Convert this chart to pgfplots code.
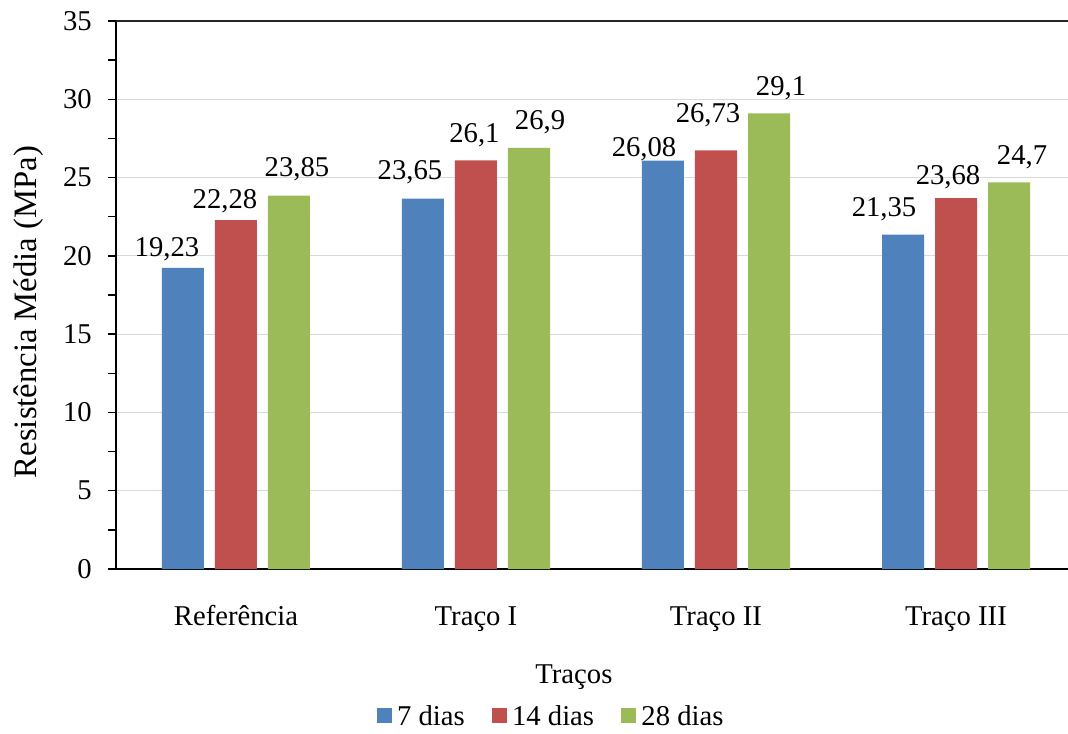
\documentclass[border=0pt]{standalone}
\usepackage{fontspec}
\setmainfont{Liberation Serif}
\usepackage{pgfplots}
\pgfplotsset{compat=1.18}
\usepackage{pgfplotstable}
\definecolor{c7}{HTML}{4F81BD}
\definecolor{c14}{HTML}{C0504D}
\definecolor{c28}{HTML}{9BBB59}
\definecolor{gridc}{HTML}{D9D9D9}
\newcommand\fs{\fontsize{21.5pt}{25pt}\selectfont}
\newcommand\fsl{\fontsize{24.5pt}{28pt}\selectfont}
% label string: dx(pt)/dy(pt)/text
\def\lblparse#1/#2/#3\relax{\raisebox{#2pt}{\makebox[0pt][c]{\hspace*{#1pt}\hspace*{#1pt}#3}}}

\pgfplotstableread{
x y lab
0 19.23 -12/8.25/19,23
1 23.65 -9.75/14.25/23,65
2 26.08 -14.25/3/26,08
3 21.35 -14.25/13.5/21,35
}\tA
\pgfplotstableread{
x y lab
0 22.28 -8.25/9/22,28
1 26.1 -1.125/13.5/26,1
2 26.73 -6/21/26,73
3 23.68 -6/10.5/23,68
}\tB
\pgfplotstableread{
x y lab
0 23.85 6/14.25/23,85
1 26.9 8.25/13.5/26,9
2 29.1 9/13.5/29,1
3 24.7 9.75/13.5/24,7
}\tC

\pgfplotsset{lbl/.style={
  nodes near coords={\expandafter\lblparse\pgfplotspointmeta\relax},
  point meta=explicit symbolic,
  every node near coord/.append style={anchor=base, inner sep=0pt, font=\fs}}}

\begin{document}
\fs
\begin{tikzpicture}[font=\fs]
\useasboundingbox (-87pt,-123pt) rectangle (714pt,426.75pt);
\begin{axis}[
  scale only axis, width=714pt, height=411pt,
  xmin=-0.5, xmax=3.4667, ymin=0, ymax=35,
  ybar=8.25pt, bar width=31.5pt,
  axis x line*=bottom, axis y line*=left,
  axis line style={black, line width=1.6pt},
  xtick={0,1,2,3},
  xticklabels={Referência, Traço I, Traço II, Traço III},
  xtick style={draw=none},
  ytick={0,5,...,35}, minor y tick num=1,
  tick align=outside, major tick length=6pt, minor tick length=6pt,
  ytick style={black, line width=1pt},
  ymajorgrids, major grid style={gridc, line width=0.9pt},
  tick label style={font=\fs},
  /pgf/number format/assume math mode=true,
  /pgf/number format/use comma,
  yticklabel style={anchor=east, inner sep=0pt, xshift=-12pt},
  xticklabel style={anchor=base, inner sep=0pt, yshift=-36pt},
  xlabel={Traços},
  xlabel style={at={(rel axis cs:0.481,0)}, anchor=base, inner sep=0pt, yshift=-85.5pt, font=\fs},
  ylabel={Resistência Média (MPa)},
  ylabel style={at={([xshift=-59.25pt]rel axis cs:0,0.469)}, anchor=base, inner sep=0pt, font=\fsl},
  legend style={draw=none, fill=none, inner sep=0pt, legend columns=-1,
    at={(rel axis cs:0.274,-0.272)}, anchor=west, font=\fs,
    nodes={inner sep=0pt},
    /tikz/every odd column/.append style={column sep=3.75pt},
    /tikz/every even column/.append style={column sep=20.5pt}},
  legend image code/.code={\fill[#1] (0pt,-3.75pt) rectangle (11.25pt,7.5pt);},
  after end axis/.code={\draw[black!85, line width=1.5pt] (rel axis cs:0,1) -- (rel axis cs:1,1);},
]
\addlegendimage{fill=c7, draw=none}
\addlegendimage{fill=c14, draw=none}
\addlegendimage{fill=c28, draw=none}
\legend{7 dias, 14 dias, 28 dias}
\addplot[fill=c7, draw=none, lbl] table[x=x, y=y, meta=lab] {\tA};
\addplot[fill=c14, draw=none, lbl] table[x=x, y=y, meta=lab] {\tB};
\addplot[fill=c28, draw=none, lbl] table[x=x, y=y, meta=lab] {\tC};
\end{axis}
\end{tikzpicture}
\end{document}
